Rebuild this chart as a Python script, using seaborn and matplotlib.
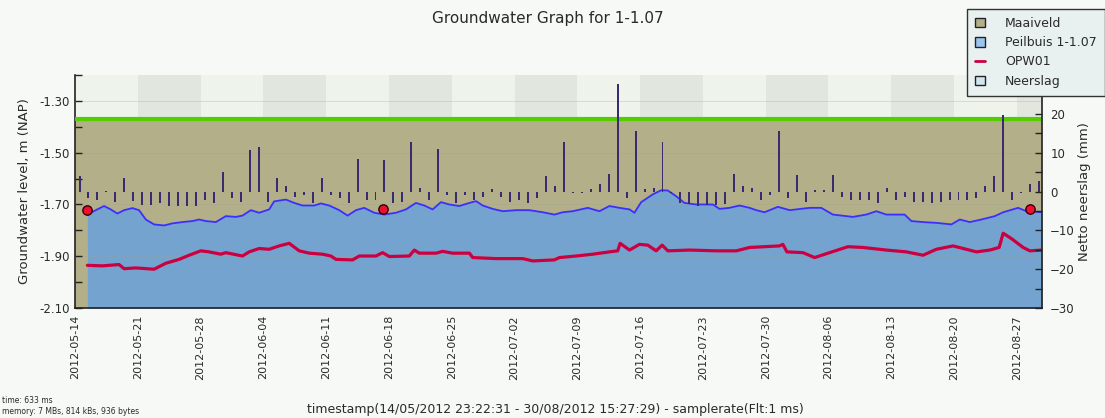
import pandas as pd
import seaborn as sns
import matplotlib.pyplot as plt
import matplotlib.dates as mdates
from matplotlib.patches import Patch
from matplotlib.lines import Line2D

# ---- data ----
start = pd.Timestamp('2012-05-14')
end_day = 107.8

maaiveld = -1.37

# Peilbuis 1-1.07 (days after 2012-05-14 00:00, level m NAP)
peil_days = [1.38, 2.31, 3.24, 3.98, 4.72, 5.47, 6.40, 7.14, 7.89, 8.81,
             9.93, 10.86, 11.98, 13.09, 13.84, 14.58, 15.70, 16.81, 17.93, 18.67,
             19.60, 20.53, 21.65, 22.20, 23.51, 24.44, 25.37, 26.67,
             27.41, 28.34, 29.46, 30.39, 31.32, 32.24, 33.36, 34.48, 35.78, 36.90,
             38.01, 38.94, 39.87, 40.80, 41.73, 42.85, 43.78, 44.71, 45.45, 46.57,
             47.69, 49.17, 50.66, 52.15, 53.45,
             54.38, 55.49, 57.17, 58.47, 59.58, 60.70, 61.82, 62.37, 63.12, 64.42,
             65.35, 66.09, 67.02, 67.95, 69.25, 71.11, 71.86, 72.97, 74.09, 75.21,
             75.95, 76.88, 78.37,
             79.67, 81.90, 83.20, 84.50, 86.73, 88.22, 89.34, 90.45, 92.50, 93.24,
             94.55, 96.03, 97.71, 98.64, 99.75, 101.06, 102.55, 103.48, 105.15, 106.08,
             107.80]
peil_vals = [-1.739, -1.722, -1.706, -1.719, -1.735, -1.722, -1.714, -1.722, -1.758, -1.777,
             -1.781, -1.773, -1.768, -1.764, -1.758, -1.764, -1.768, -1.745, -1.748, -1.743,
             -1.722, -1.732, -1.719, -1.688, -1.681, -1.694, -1.704, -1.704,
             -1.696, -1.704, -1.722, -1.743, -1.722, -1.713, -1.732, -1.739, -1.732, -1.719,
             -1.694, -1.704, -1.719, -1.691, -1.700, -1.706, -1.696, -1.687, -1.704, -1.717,
             -1.726, -1.722, -1.722, -1.730, -1.739,
             -1.730, -1.726, -1.713, -1.726, -1.706, -1.713, -1.719, -1.732, -1.691, -1.661,
             -1.645, -1.646, -1.668, -1.694, -1.700, -1.700, -1.717, -1.713, -1.704, -1.713,
             -1.722, -1.730, -1.709,
             -1.722, -1.713, -1.713, -1.739, -1.748, -1.739, -1.726, -1.739, -1.739, -1.764,
             -1.768, -1.771, -1.777, -1.758, -1.768, -1.758, -1.745, -1.730, -1.713, -1.726,
             -1.730]

# OPW01
opw_days = [1.38, 3.05, 4.91, 5.47, 6.77, 8.81, 10.12, 11.60, 12.72, 14.02,
            14.95, 16.25, 16.81, 18.67, 19.42, 20.53, 21.65, 22.76, 23.88, 24.99,
            26.11, 27.60, 28.53, 29.09, 30.95, 31.69, 33.55, 34.29, 35.04, 37.27,
            37.83, 38.38, 40.25, 40.99, 42.10, 43.97, 44.34, 46.94, 49.92, 51.03,
            53.45, 54.00, 55.86, 57.72, 59.58, 60.51, 60.77, 61.82, 62.93, 63.86,
            64.79, 65.46, 66.09, 68.51, 71.49, 73.72, 75.21, 78.55, 78.92, 79.37,
            81.16, 82.46, 84.13, 86.18, 87.85, 90.45, 92.69, 94.55, 96.03, 97.89,
            100.50, 101.99, 103.03, 103.48, 104.41, 105.71, 106.45, 107.80]
opw_vals = [-1.935, -1.937, -1.932, -1.948, -1.945, -1.950, -1.927, -1.912, -1.896, -1.879,
            -1.883, -1.892, -1.886, -1.899, -1.883, -1.870, -1.873, -1.860, -1.850, -1.879,
            -1.888, -1.892, -1.899, -1.912, -1.914, -1.899, -1.899, -1.886, -1.901, -1.899,
            -1.876, -1.888, -1.888, -1.881, -1.888, -1.888, -1.905, -1.909, -1.909, -1.918,
            -1.914, -1.905, -1.899, -1.892, -1.883, -1.879, -1.850, -1.876, -1.854, -1.857,
            -1.879, -1.857, -1.879, -1.876, -1.879, -1.879, -1.866, -1.860, -1.854, -1.883,
            -1.886, -1.905, -1.886, -1.863, -1.866, -1.876, -1.883, -1.896, -1.873, -1.860,
            -1.883, -1.876, -1.866, -1.811, -1.832, -1.866, -1.879, -1.876]

# manual readings (red dots)
hand_days = [1.37, 34.37, 106.45]
hand_vals = [-1.72, -1.719, -1.719]

# daily netto neerslag (mm), one bar per day from 2012-05-14
neerslag = [3.9, -1.6, -2.3, 0.2, -2.6, 3.6, -2.4, -3.4, -3.4, -2.9,
            -3.6, -3.6, -3.6, -3.6, -2.1, -2.9, 5.0, -1.6, -2.6, 10.7,
            11.4, -2.6, 3.6, 1.4, -1.5, -1.0, -2.9, 3.4, -1.0, -1.6,
            -2.9, 8.4, -2.1, -2.3, 8.2, -2.9, -2.6, 12.7, 1.0, -2.3,
            11.0, -1.0, -2.9, -1.0, -2.1, -1.5, 0.7, -1.5, -2.6, -2.3,
            -2.9, -1.6, 4.0, 1.4, 12.7, -0.3, -0.3, 0.7, 2.0, 4.6,
            27.7, -1.6, 15.7, 0.7, 1.0, 12.7, -0.5, -2.9, -3.3, -3.6,
            -3.4, -3.4, -3.3, 4.6, 1.5, 1.0, -2.1, -0.8, 15.7, -1.6,
            4.3, -2.6, 0.5, 0.5, 4.3, -1.5, -2.1, -2.3, -2.3, -2.9,
            1.0, -2.1, -1.5, -2.6, -2.6, -2.9, -2.6, -2.3, -2.1, -2.3,
            -1.6, 1.4, 4.0, 19.8, -2.3, -0.3, 2.0, 2.6]

left_ticks = [-2.10, -1.90, -1.70, -1.50, -1.30]
right_ticks = [-30, -20, -10, 0, 10, 20]

# ---- frames ----
peil = pd.DataFrame({'time': start + pd.to_timedelta(peil_days, unit='D'), 'level': peil_vals})
opw = pd.DataFrame({'time': start + pd.to_timedelta(opw_days, unit='D'), 'level': opw_vals})
hand = pd.DataFrame({'time': start + pd.to_timedelta(hand_days, unit='D'), 'level': hand_vals})
rain = pd.DataFrame({'time': pd.date_range(start + pd.Timedelta(hours=12), periods=len(neerslag), freq='D'),
                     'mm': neerslag})

# ---- style ----
sns.set_theme(style='white')
plt.rcParams['font.family'] = ['DejaVu Sans']
txt = '#2a2a2a'

fig = plt.figure(figsize=(11.05, 4.18), dpi=100, facecolor='#f6f9f5')
ax = fig.add_axes([0.0679, 0.263, 0.875, 0.5576])
ax.set_facecolor('#eef4ec')

x0, x1 = start, start + pd.Timedelta(days=end_day)

# alternating weekly bands
for wk in pd.date_range('2012-05-21', '2012-08-27', freq='14D'):
    ax.axvspan(wk, wk + pd.Timedelta(days=7), color='#e1e7df', lw=0, zorder=0)

ax.axhspan(left_ticks[0], maaiveld, color='#b3af88', lw=0, zorder=1)
ax.axhline(maaiveld, color='#55cc00', lw=3, zorder=4)
ax.fill_between(peil['time'], peil['level'], left_ticks[0], color='#74a3cf', lw=0, zorder=2)
sns.lineplot(data=peil, x='time', y='level', ax=ax, color='#3b2fff', lw=1.3, sort=False, zorder=5)
sns.lineplot(data=opw, x='time', y='level', ax=ax, color='#cc0040', lw=2.3, sort=False, zorder=5)
sns.scatterplot(data=hand, x='time', y='level', ax=ax, color='#ee1030', edgecolor='#330000',
                s=45, linewidth=1, zorder=8)

ax.set_xlim(x0, x1)
ax.set_ylim(-2.10, -1.20)
ax.set_yticks(left_ticks)
ax.set_yticklabels([f'{v:.2f}' for v in left_ticks])
ax.set_yticks([-2.0, -1.8, -1.6, -1.4, -1.2], minor=True)
ax.grid(axis='y', which='major', color='#9aa39a', lw=0.6, alpha=0.35, zorder=3)
ax.set_axisbelow(False)

ax.xaxis.set_major_locator(mdates.WeekdayLocator(byweekday=mdates.MO))
ax.xaxis.set_minor_locator(mdates.DayLocator())
ax.xaxis.set_major_formatter(mdates.DateFormatter('%Y-%m-%d'))
for lab in ax.get_xticklabels():
    lab.set_rotation(90)
ax.tick_params(axis='x', which='major', direction='in', length=7, width=1, labelsize=8,
               colors='#222', labelcolor=txt, pad=5)
ax.tick_params(axis='x', which='minor', direction='in', length=3.5, width=1, color='#222')
ax.tick_params(axis='y', which='both', direction='in', length=5, width=1, color='#222',
               labelsize=8.5, labelcolor=txt, left=True)
ax.set_xlabel('')
ax.set_ylabel('Groundwater level, m (NAP)', fontsize=9.5, color=txt, labelpad=6)

for s in ['top', 'right']:
    ax.spines[s].set_visible(False)
for s in ['left', 'bottom']:
    ax.spines[s].set_color('#222')
    ax.spines[s].set_linewidth(1.2)

# right axis: netto neerslag bars
ax2 = ax.twinx()
ax2.bar(rain['time'], rain['mm'], width=0.22, color='#3a2a70', lw=0, zorder=3)
ax2.set_ylim(-30, 30)
ax2.set_yticks(right_ticks)
ax2.set_yticks([-25, -15, -5, 5, 15, 25], minor=True)
ax2.tick_params(axis='y', which='both', direction='in', length=5, width=1, color='#222',
                labelsize=8.5, labelcolor=txt, right=True, pad=6)
ax2.set_ylabel('Netto neerslag (mm)', fontsize=9.5, color=txt, labelpad=2)
for s in ['top', 'left', 'bottom']:
    ax2.spines[s].set_visible(False)
ax2.spines['right'].set_color('#222')
ax2.spines['right'].set_linewidth(1.2)
ax2.grid(False)
ax2.set_xlim(x0, x1)

# title, legend, footer
fig.text(0.496, 0.955, 'Groundwater Graph for 1-1.07', ha='center', va='center',
         fontsize=11, color=txt)

handles = [Patch(facecolor='#b3af88', edgecolor='#222', label='Maaiveld'),
           Patch(facecolor='#9cc4ee', edgecolor='#222', label='Peilbuis 1-1.07'),
           Line2D([], [], color='#cc0040', lw=2, label='OPW01'),
           Patch(facecolor='#cfe6ee', edgecolor='#222', label='Neerslag')]
leg = fig.legend(handles=handles, loc='upper left', bbox_to_anchor=(0.875, 0.979),
                 frameon=True, fancybox=False, fontsize=9, handlelength=0.8,
                 handleheight=0.8, borderpad=0.65, labelspacing=0.5, handletextpad=1.6,
                 borderaxespad=0)
leg.get_frame().set_facecolor('#e9f1f0')
leg.get_frame().set_edgecolor('#333')
leg.get_frame().set_alpha(1)
for t in leg.get_texts():
    t.set_color(txt)

fig.text(0.002, 0.043, 'time: 633 ms', fontsize=5.5, color=txt, va='center')
fig.text(0.002, 0.015, 'memory: 7 MBs, 814 kBs, 936 bytes', fontsize=5.5, color=txt, va='center')
fig.text(0.503, 0.005, 'timestamp(14/05/2012 23:22:31 - 30/08/2012 15:27:29) - samplerate(Flt:1 ms)',
         ha='center', va='bottom', fontsize=9, color=txt)

fig.savefig('out.png', dpi=100, facecolor=fig.get_facecolor())
